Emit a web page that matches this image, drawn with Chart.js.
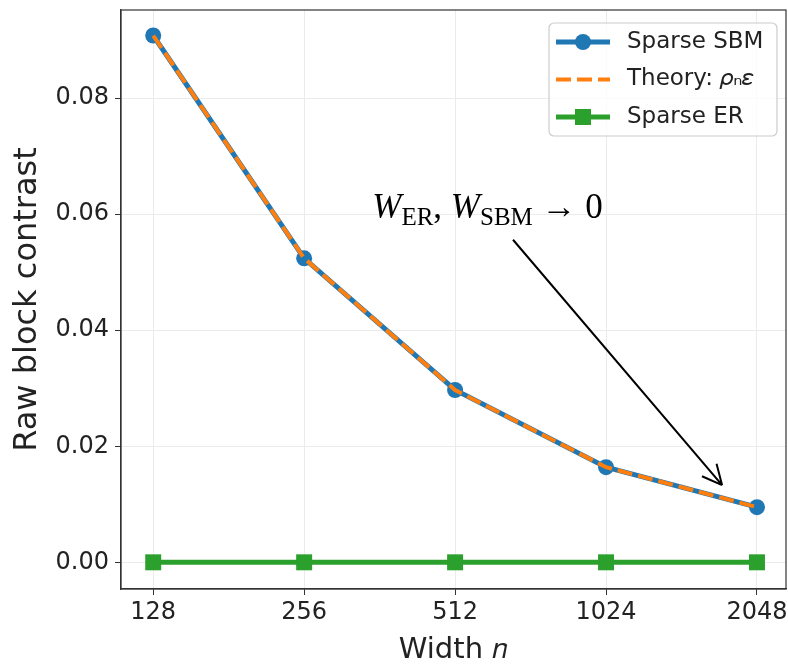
<!DOCTYPE html>
<html>
<head>
<meta charset="utf-8">
<script src="https://cdn.jsdelivr.net/npm/chart.js@4/dist/chart.umd.min.js"></script>
<style>
  html, body { margin: 0; padding: 0; background: #fff; }
  canvas { display: block; }
</style>
</head>
<body>
<canvas id="chart" width="788" height="664"></canvas>
<script>
const widths = [128, 256, 512, 1024, 2048];
const sparseSbm = [0.0908, 0.0524, 0.0297, 0.0164, 0.0095];
const theory = [0.0908, 0.0524, 0.0297, 0.0164, 0.0095];
const sparseEr = [0, 0, 0, 0, 0];
const yTicks = [0, 0.02, 0.04, 0.06, 0.08];

// annotation anchors, in data units
const noteText = { n: 350, y: 0.0594 };
const noteArrow = { from: [668, 0.0556], to: [1745, 0.0133] };

const points = vals => widths.map((n, i) => ({ x: n, y: vals[i] }));

// box around the axes
const frame = {
  id: "frame",
  afterDatasetsDraw(chart) {
    const { ctx, chartArea: a } = chart;
    ctx.save();
    ctx.strokeStyle = "#333";
    ctx.lineWidth = 1.2;
    ctx.strokeRect(a.left, a.top, a.right - a.left, a.bottom - a.top);
    ctx.restore();
  },
};

// arrow + math label
const note = {
  id: "note",
  afterDatasetsDraw(chart) {
    const { ctx, scales } = chart;
    const x = scales.x, y = scales.y;
    const x0 = x.getPixelForValue(noteArrow.from[0]);
    const y0 = y.getPixelForValue(noteArrow.from[1]);
    const x1 = x.getPixelForValue(noteArrow.to[0]);
    const y1 = y.getPixelForValue(noteArrow.to[1]);
    ctx.save();
    ctx.strokeStyle = "#000";
    ctx.lineWidth = 2;
    ctx.beginPath();
    ctx.moveTo(x0, y0);
    ctx.lineTo(x1, y1);
    const ang = Math.atan2(y0 - y1, x0 - x1);
    for (const d of [0.45, -0.45]) {
      ctx.moveTo(x1, y1);
      ctx.lineTo(x1 + 22 * Math.cos(ang + d), y1 + 22 * Math.sin(ang + d));
    }
    ctx.stroke();

    let tx = x.getPixelForValue(noteText.n);
    const ty = y.getPixelForValue(noteText.y);
    const big = 35, small = 25;
    ctx.fillStyle = "#000";
    ctx.textBaseline = "alphabetic";
    const part = (s, font, dy) => {
      ctx.font = font;
      ctx.fillText(s, tx, ty + dy);
      tx += ctx.measureText(s).width;
    };
    part("W", `italic ${big}px "Liberation Serif"`, 0);
    part("ER", `${small}px "Liberation Serif"`, 7);
    part(", ", `${big}px "Liberation Serif"`, 0);
    part("W", `italic ${big}px "Liberation Serif"`, 0);
    part("SBM", `${small}px "Liberation Serif"`, 7);
    part(" \u2192 0", `${big}px "Liberation Serif"`, 0);
    ctx.restore();
  },
};

// framed legend in the upper right
const boxLegend = {
  id: "boxLegend",
  afterDraw(chart) {
    const { ctx, chartArea: a } = chart;
    const sets = chart.data.datasets;
    const bx = a.right - 237, by = a.top + 13, bw = 228, bh = 113;
    ctx.save();
    ctx.fillStyle = "rgba(255,255,255,0.8)";
    ctx.strokeStyle = "#cccccc";
    ctx.lineWidth = 1.2;
    ctx.beginPath();
    ctx.roundRect(bx, by, bw, bh, 5);
    ctx.fill();
    ctx.stroke();
    ctx.font = '23px "DejaVu Sans"';
    ctx.textBaseline = "middle";
    sets.forEach((ds, i) => {
      const cy = by + 19 + i * 37.5;
      const lx0 = bx + 7, lx1 = bx + 61, mx = (lx0 + lx1) / 2;
      ctx.strokeStyle = ds.borderColor;
      ctx.lineWidth = ds.borderWidth;
      ctx.setLineDash(ds.borderDash || []);
      ctx.beginPath();
      ctx.moveTo(lx0, cy);
      ctx.lineTo(lx1, cy);
      ctx.stroke();
      ctx.setLineDash([]);
      if (ds.pointRadius > 0) {
        ctx.fillStyle = ds.borderColor;
        ctx.beginPath();
        if (ds.pointStyle === "rect") {
          ctx.rect(mx - 8, cy - 8, 16, 16);
        } else {
          ctx.arc(mx, cy, 8, 0, Math.PI * 2);
        }
        ctx.fill();
      }
      ctx.fillStyle = "#222";
      ctx.fillText(ds.label, bx + 78, cy);
    });
    ctx.restore();
  },
};

new Chart(document.getElementById("chart"), {
  type: "line",
  data: {
    datasets: [
      {
        label: "Sparse SBM",
        data: points(sparseSbm),
        borderColor: "#1f77b4",
        backgroundColor: "#1f77b4",
        borderWidth: 5,
        pointRadius: 8,
        pointBorderWidth: 0,
        order: 1,
      },
      {
        label: "Theory: \u{1D70C}\u2099\u{1D700}",
        data: points(theory),
        borderColor: "#ff7f0e",
        backgroundColor: "#ff7f0e",
        borderWidth: 4,
        borderDash: [15, 6],
        pointRadius: 0,
        order: 0,
      },
      {
        label: "Sparse ER",
        data: points(sparseEr),
        borderColor: "#2ca02c",
        backgroundColor: "#2ca02c",
        borderWidth: 5,
        pointStyle: "rect",
        pointRadius: 11.3,
        pointBorderWidth: 0,
        order: 2,
      },
    ],
  },
  options: {
    responsive: false,
    animation: false,
    devicePixelRatio: 1,
    layout: { autoPadding: false, padding: { left: 0, right: 2, top: 10, bottom: 0 } },
    plugins: { legend: { display: false }, tooltip: { enabled: false } },
    scales: {
      x: {
        type: "logarithmic",
        min: 110.4,
        max: 2340,
        afterBuildTicks: s => { s.ticks = widths.map(v => ({ value: v })); },
        afterFit: s => {
          s.height = 75;
          s.paddingLeft = 0;
          s.paddingRight = 0;
        },
        ticks: {
          callback: v => String(v),
          font: { family: "DejaVu Sans", size: 24 },
          color: "#222",
          padding: 3,
          maxRotation: 0,
          autoSkip: false,
        },
        grid: { color: "#ebebeb", tickColor: "#333", tickLength: 6, lineWidth: 1 },
        border: { color: "#333", width: 1.2 },
        title: {
          display: true,
          text: "Width \u{1D45B}",
          font: { family: "DejaVu Sans", size: 29 },
          color: "#222",
          padding: { top: 0, bottom: -4 },
        },
      },
      y: {
        min: -0.0046,
        max: 0.0952,
        afterBuildTicks: s => { s.ticks = yTicks.map(v => ({ value: v })); },
        afterFit: s => {
          s.width = 121;
          s.paddingTop = 0;
          s.paddingBottom = 0;
        },
        ticks: {
          callback: v => v.toFixed(2),
          font: { family: "DejaVu Sans", size: 24 },
          color: "#222",
          padding: 6,
        },
        grid: { color: "#ebebeb", tickColor: "#333", tickLength: 6, lineWidth: 1 },
        border: { color: "#333", width: 1.2 },
        title: {
          display: true,
          text: "Raw block contrast",
          font: { family: "DejaVu Sans", size: 32 },
          color: "#222",
          padding: { top: 8, bottom: 0 },
        },
      },
    },
  },
  plugins: [frame, note, boxLegend],
});
</script>
</body>
</html>
